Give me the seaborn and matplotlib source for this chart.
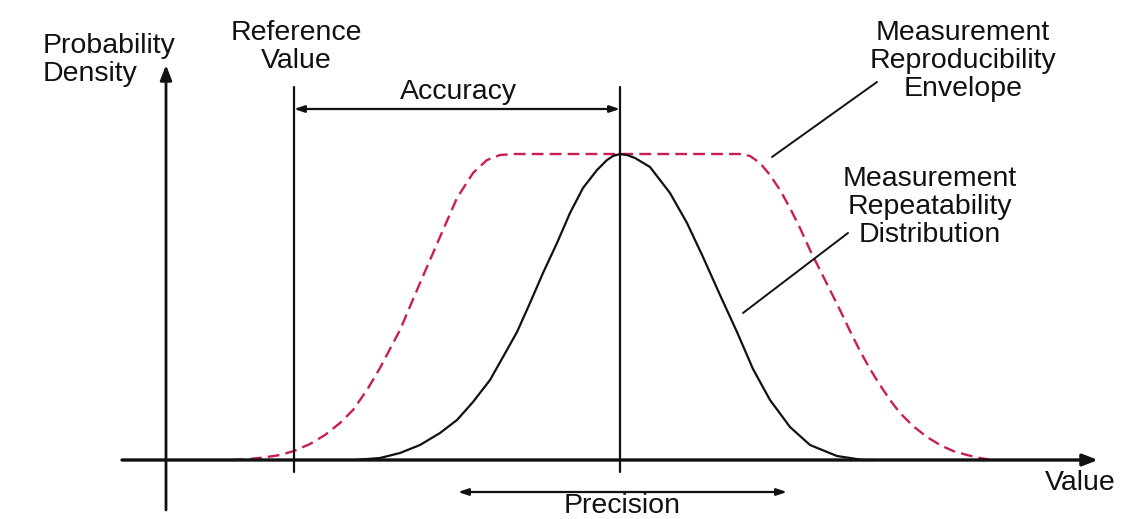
import matplotlib
matplotlib.use('Agg')

import matplotlib.pyplot as plt
import pandas as pd
import seaborn as sns

# x = position along the value axis, h = height above the baseline
repeat_x = [355, 380, 400, 420, 440, 457, 473, 490, 503, 517, 530, 543, 557, 570, 583, 597,
            607, 613, 620, 627, 635, 650, 670, 687, 703, 720, 737, 753, 770, 790, 810, 837,
            863, 875]
repeat_h = [0, 2, 7, 15, 27, 40, 58, 80, 103, 128, 157, 187, 217, 247, 272, 290,
            300, 304, 306, 305, 302, 293, 267, 237, 203, 165, 128, 91, 60, 33, 15, 4,
            0, 0]

envelope_x = [232, 250, 267, 280, 294, 310, 325, 340, 353, 367, 380, 400, 420, 440, 457, 473,
              487, 500, 515, 560, 620, 680, 740, 750, 760, 770, 780, 790, 800, 810, 820, 830,
              840, 850, 860, 870, 880, 890, 900, 913, 927, 940, 953, 967, 980, 992]
envelope_h = [0, 1, 3, 5, 9, 16, 25, 37, 50, 70, 92, 130, 177, 223, 262, 287,
              300, 305, 306, 306, 306, 306, 306, 304, 297, 285, 270, 252, 232, 210, 190, 170,
              150, 129, 109, 91, 75, 60, 47, 34, 23, 15, 9, 5, 2, 0]

reference_value = 294
mean_value = 620
precision_span = [458, 787]

repeat = pd.DataFrame({"x": repeat_x, "h": repeat_h})
envelope = pd.DataFrame({"x": envelope_x, "h": envelope_h})

sns.set_style("white")
plt.rcParams['font.family'] = ['Liberation Sans', 'DejaVu Sans']

fig = plt.figure(figsize=(11.23, 5.19), dpi=100)
ax = fig.add_axes([0, 0, 1, 1])
ax.set_xlim(0, 1123)
ax.set_ylim(-59, 460)
ax.axis('off')

black = "#111111"
red = "#c8204c"

sns.lineplot(data=envelope, x="x", y="h", ax=ax, color=red, lw=1.7,
             dashes=False, linestyle=(0, (5, 2.6)))
sns.lineplot(data=repeat, x="x", y="h", ax=ax, color=black, lw=1.6)

# axes with arrow heads
ax.annotate("", xy=(1098, 0), xytext=(122, 0),
            arrowprops=dict(arrowstyle="-|>,head_length=0.9,head_width=0.35", color=black, lw=2.4,
                            shrinkA=0, shrinkB=0))
ax.annotate("", xy=(166, 395), xytext=(166, -50),
            arrowprops=dict(arrowstyle="-|>,head_length=0.9,head_width=0.35", color=black, lw=2.0,
                            shrinkA=0, shrinkB=0))

# reference and mean lines
ax.plot([reference_value, reference_value], [-12, 373], color=black, lw=1.6)
ax.plot([mean_value, mean_value], [-12, 373], color=black, lw=1.6)

# accuracy and precision arrows
ax.annotate("", xy=(mean_value, 351), xytext=(reference_value, 351),
            arrowprops=dict(arrowstyle="<|-|>,head_length=0.6,head_width=0.2", color=black, lw=1.6,
                            shrinkA=0, shrinkB=0))
ax.annotate("", xy=(precision_span[1], -32), xytext=(precision_span[0], -32),
            arrowprops=dict(arrowstyle="<|-|>,head_length=0.6,head_width=0.2", color=black, lw=1.6,
                            shrinkA=0, shrinkB=0))

# leader lines for labels
ax.plot([772, 877], [303, 378], color=black, lw=1.4)
ax.plot([743, 848], [147, 227], color=black, lw=1.4)

fs = 20.5
ls = 1.08
ax.text(43, 400, "Probability\nDensity", fontsize=fs, ha="left", va="center", linespacing=ls, color=black)
ax.text(296, 413, "Reference\nValue", fontsize=fs, ha="center", va="center", linespacing=ls, color=black)
ax.text(459, 368, "Accuracy", fontsize=fs, ha="center", va="center", color=black)
ax.text(963, 399, "Measurement\nReproducibility\nEnvelope", fontsize=fs, ha="center", va="center",
        linespacing=ls, color=black)
ax.text(930, 253, "Measurement\nRepeatability\nDistribution", fontsize=fs, ha="center", va="center",
        linespacing=ls, color=black)
ax.text(1080, -23, "Value", fontsize=fs, ha="center", va="center", color=black)
ax.text(622, -53, "Precision", fontsize=fs, ha="center", va="baseline", color=black)

fig.savefig("out.png", dpi=100)
